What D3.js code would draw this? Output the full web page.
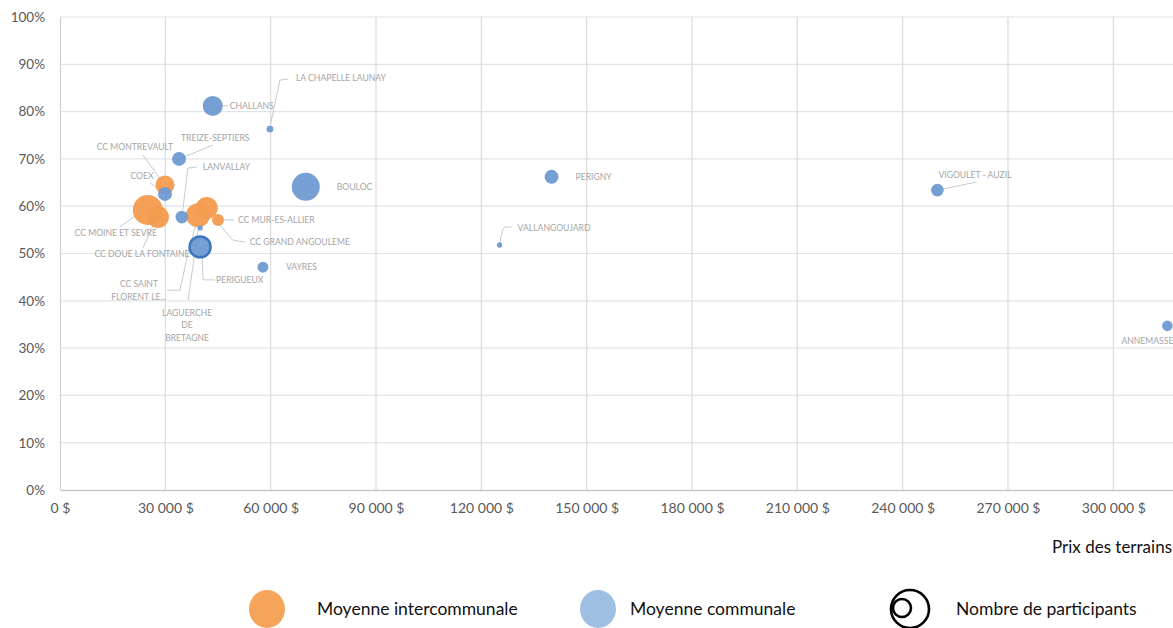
<!DOCTYPE html>
<html><head><meta charset="utf-8">
<script src="https://cdn.jsdelivr.net/npm/d3@7/dist/d3.min.js"></script>
<style>
html,body{margin:0;padding:0;background:#fff;overflow:hidden;}
svg{display:block;font-family:Lato,"Open Sans",sans-serif;}
</style></head><body>
<svg id="c" width="1173" height="628"></svg>
<script>
// ---- DATA ----
const communes = ["CHALLANS","LA CHAPELLE LAUNAY","TREIZE-SEPTIERS","BOULOC","COEX","LANVALLAY","LAGUERCHE DE BRETAGNE","PERIGUEUX","VAYRES","PERIGNY","VALLANGOUJARD","VIGOULET - AUZIL","ANNEMASSE"];
const communePrix = [43500,59800,33900,70000,29900,34700,39900,39900,57800,140000,125200,249900,315400];
const communeTaux = [0.812,0.763,0.700,0.641,0.626,0.577,0.554,0.514,0.471,0.662,0.518,0.634,0.347];
const communeParticipants = [100,12,49,196,49,40,7,110,30,49,7,40,28];

const intercos = ["CC MONTREVAULT","CC MOINE ET SEVRE","CC DOUE LA FONTAINE","CC SAINT FLORENT LE...","CC GRAND ANGOULEME","CC MUR-ES-ALLIER"];
const intercoPrix = [29900,25000,27900,39300,41800,45000];
const intercoTaux = [0.645,0.592,0.577,0.581,0.596,0.571];
const intercoParticipants = [90,225,121,144,121,36];

const xTicks = [0,30000,60000,90000,120000,150000,180000,210000,240000,270000,300000];
const yTicks = [0,0.1,0.2,0.3,0.4,0.5,0.6,0.7,0.8,0.9,1];
const xTitle = "Prix des terrains";
const legendItems = ["Moyenne intercommunale","Moyenne communale","Nombre de participants"];

// ---- LABEL LAYOUT (offsets from bubble centre, px) ----
const labelLayout = {
  "CHALLANS":{dx:17,dy:0,anchor:"start",lead:[[8,0],[15,0]]},
  "LA CHAPELLE LAUNAY":{dx:26,dy:-51,anchor:"start",lead:[[0,-2],[10,-49],[18,-50]]},
  "TREIZE-SEPTIERS":{dx:2,dy:-21,anchor:"start",lead:[[3,-1],[34,-14]]},
  "BOULOC":{dx:31,dy:0,anchor:"start",lead:null},
  "COEX":{dx:-23,dy:-18,anchor:"middle",lead:[[-15,-11],[-4,-3]]},
  "LANVALLAY":{dx:21,dy:-50,anchor:"start",lead:[[1,-7],[6,-49],[15,-50]]},
  "LAGUERCHE DE BRETAGNE":{dx:-13,dy:85,anchor:"middle",lines:["LAGUERCHE","DE","BRETAGNE"],lead:[[-12,72],[-2,2]]},
  "PERIGUEUX":{dx:16,dy:33,anchor:"start",lead:[[15,33],[3,33],[2,10]]},
  "VAYRES":{dx:23,dy:0,anchor:"start",lead:null},
  "PERIGNY":{dx:24,dy:0,anchor:"start",lead:null},
  "VALLANGOUJARD":{dx:18,dy:-17,anchor:"start",lead:[[0,-1],[3,-15],[5,-18],[12,-18]]},
  "VIGOULET - AUZIL":{dx:1,dy:-15,anchor:"start",lead:[[0,0],[39,-8]]},
  "ANNEMASSE":{dx:-46,dy:15,anchor:"start",lead:null},
  "CC MONTREVAULT":{dx:-30,dy:-38,anchor:"middle",lead:[[-22,-30],[-4,-5]]},
  "CC MOINE ET SEVRE":{dx:-32,dy:23,anchor:"middle",lead:[[-28,17],[-3,-1]]},
  "CC DOUE LA FONTAINE":{dx:-16,dy:37,anchor:"middle",lead:[[-15,31],[-2,2]]},
  "CC SAINT FLORENT LE...":{dx:-59,dy:69,anchor:"middle",lines:["CC SAINT","FLORENT LE..."],lead:[[-31,75],[-18,75],[-10,38],[0,2]]},
  "CC GRAND ANGOULEME":{dx:43,dy:34,anchor:"start",lead:[[3,5],[26,32],[38,34]]},
  "CC MUR-ES-ALLIER":{dx:20,dy:0,anchor:"start",lead:[[6,0],[16,0]]}
};

// ---- CHART ----
const svg = d3.select("#c");
const x = d3.scaleLinear().domain([0,317000]).range([60,1173]);
const y = d3.scaleLinear().domain([0,1]).range([490,17]);
const r = d3.scaleSqrt().domain([0,225]).range([0,15]);
const ORANGE = "#f39c4e", BLUE = "#6a98d0";

// gridlines
svg.append("g").selectAll("line.h").data(yTicks.filter(d=>d>0)).join("line")
  .attr("x1",60).attr("x2",1173).attr("y1",d=>y(d)).attr("y2",d=>y(d))
  .attr("stroke","#dfe4ea").attr("stroke-width",1.2);
svg.append("g").selectAll("line.v").data(xTicks.filter(d=>d>0)).join("line")
  .attr("x1",d=>x(d)).attr("x2",d=>x(d)).attr("y1",y(1)).attr("y2",y(0))
  .attr("stroke","#dcdcdc").attr("stroke-width",1.2);

// axes
const xAxis = d3.axisBottom(x).tickValues(xTicks).tickSize(0).tickPadding(13)
  .tickFormat(d => d===0 ? "0 $" : d3.format(",")(d).replace(/,/g," ")+" $");
const gx = svg.append("g").attr("transform",`translate(0,${y(0)})`).call(xAxis);
gx.select(".domain").attr("stroke","#c8c8c8").attr("stroke-width",1.3);
gx.selectAll("text").attr("fill","#595959").attr("font-size",14).attr("font-family","Lato");

const yAxis = d3.axisLeft(y).tickValues(yTicks).tickSize(0).tickPadding(15)
  .tickFormat(d3.format(".0%"));
const gy = svg.append("g").attr("transform",`translate(60,0)`).call(yAxis);
gy.select(".domain").attr("stroke","#cfcfcf").attr("stroke-width",1.2);
gy.selectAll("text").attr("fill","#595959").attr("font-size",13.5).attr("font-family","Lato");

svg.append("text").attr("x",1052).attr("y",547).attr("dy","0.35em")
  .attr("font-size",17).attr("fill","#111").text(xTitle);

// points
const pts = [];
communes.forEach((n,i)=>pts.push({name:n,prix:communePrix[i],taux:communeTaux[i],n:communeParticipants[i],type:"c"}));
intercos.forEach((n,i)=>pts.push({name:n,prix:intercoPrix[i],taux:intercoTaux[i],n:intercoParticipants[i],type:"i"}));

// leader lines
const gl = svg.append("g");
pts.forEach(p=>{
  const L = labelLayout[p.name]; if(!L || !L.lead) return;
  const cx = x(p.prix), cy = y(p.taux);
  gl.append("path").attr("d", d3.line()(L.lead.map(q=>[cx+q[0],cy+q[1]])))
    .attr("fill","none").attr("stroke","#c4cbd3").attr("stroke-width",1);
});

// bubbles: draw intercos, then communes
const order = pts.filter(p=>p.type==="i").concat(pts.filter(p=>p.type==="c"));
svg.append("g").selectAll("circle").data(order).join("circle")
  .attr("cx",d=>x(d.prix)).attr("cy",d=>y(d.taux)).attr("r",d=>r(d.n))
  .attr("fill",d=>d.type==="i"?ORANGE:BLUE)
  .attr("fill-opacity",d=>d.type==="i"?0.95:0.92)
  .attr("stroke",d=>d.name==="PERIGUEUX"?"#3d76bd":"none")
  .attr("stroke-width",d=>d.name==="PERIGUEUX"?2.5:0);

// labels
const gt = svg.append("g").attr("font-size",8.6).attr("fill","#a5a5a5");
pts.forEach(p=>{
  const L = labelLayout[p.name]; if(!L) return;
  const cx = x(p.prix), cy = y(p.taux);
  const lines = L.lines || [p.name];
  lines.forEach((t,k)=>{
    gt.append("text").attr("x",cx+L.dx).attr("y",cy+L.dy+k*12.5).attr("dy","0.35em")
      .attr("text-anchor",L.anchor).text(t);
  });
});

// legend
const lg = svg.append("g");
lg.append("ellipse").attr("cx",267).attr("cy",609).attr("rx",18).attr("ry",19).attr("fill","#f5a55a");
lg.append("ellipse").attr("cx",598).attr("cy",609).attr("rx",18).attr("ry",19).attr("fill","#9ebee2");
lg.append("ellipse").attr("cx",910).attr("cy",609).attr("rx",19).attr("ry",19).attr("fill","none").attr("stroke","#000").attr("stroke-width",2.6);
lg.append("circle").attr("cx",902).attr("cy",608).attr("r",9).attr("fill","none").attr("stroke","#000").attr("stroke-width",2.6);
[[317,legendItems[0]],[630,legendItems[1]],[956,legendItems[2]]].forEach(([lx,t])=>{
  lg.append("text").attr("x",lx).attr("y",609).attr("dy","0.35em").attr("font-size",17.5).attr("fill","#111").text(t);
});
</script></body></html>
